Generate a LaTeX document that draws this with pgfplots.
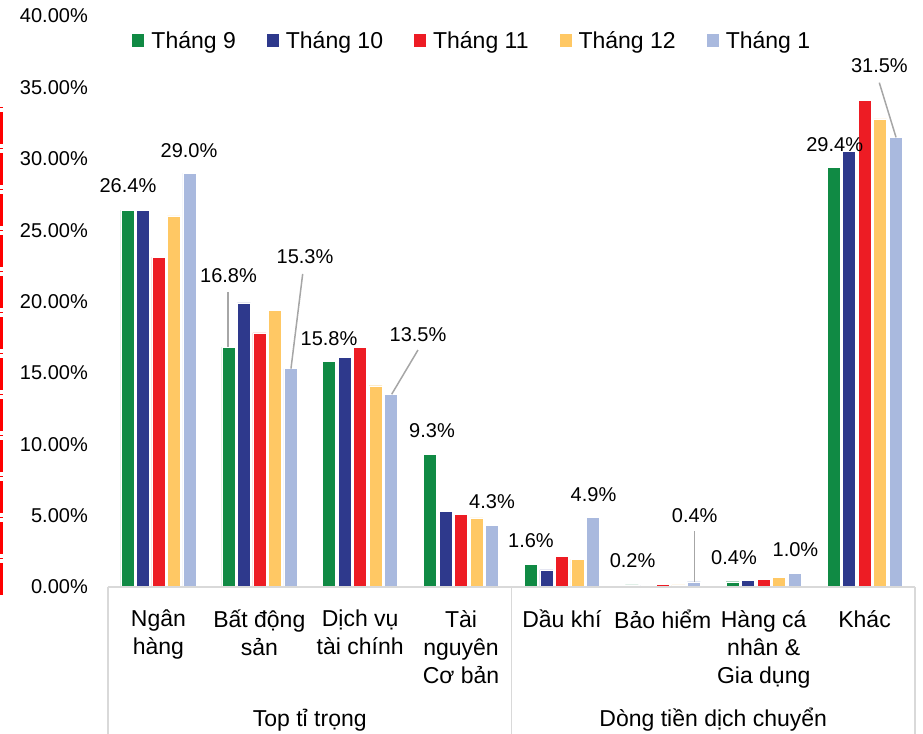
\documentclass[border=0pt]{standalone}
\usepackage{fontspec}
\setmainfont{Liberation Sans}
\usepackage{pgfplots}
\pgfplotsset{compat=1.18}
\definecolor{cg}{RGB}{16,138,68}
\definecolor{cn}{RGB}{46,57,140}
\definecolor{cr}{RGB}{237,28,36}
\definecolor{cy}{RGB}{255,200,100}
\definecolor{cb}{RGB}{169,185,222}
\definecolor{sepc}{RGB}{217,217,217}
\definecolor{lead}{RGB}{166,166,166}
\begin{document}
\begin{tikzpicture}
\begin{axis}[
  name=ax, scale only axis, width=807pt, height=571pt,
  xmin=-0.5, xmax=7.5, ymin=0, ymax=40,
  ybar=2.5pt, bar width=13pt,
  axis line style={draw=none}, tick style={draw=none},
  clip=false,
  xtick={0,...,7},
  xticklabels={Ngân\\hàng, Bất động\\sản, Dịch vụ\\tài chính, Tài\\nguyên\\Cơ bản, Dầu khí\\{}, Bảo hiểm\\{}, Hàng cá\\nhân \&\\Gia dụng, Khác\\{}},
  xticklabel style={align=center, font=\fontsize{23}{28}\selectfont, anchor=north, inner sep=0pt, yshift=-18.7pt,
    execute at begin node={\rule{0pt}{21pt}}},
  ytick={0,5,...,40},
  /pgf/number format/assume math mode=true,
  yticklabel={\pgfmathprintnumber[fixed,fixed zerofill,precision=2]{\tick}\%},
  yticklabel style={font=\fontsize{20}{24}\selectfont, anchor=east, inner sep=0pt, xshift=-20pt},
  legend columns=-1,
  legend style={at={(rel axis cs:0,0.9562)}, anchor=west, xshift=24.5pt, draw=none, fill=none,
    font=\fontsize{23}{26}\selectfont, inner sep=0pt, outer sep=0pt,
    nodes={inner sep=0pt},
    /tikz/every odd column/.append style={column sep=7pt},
    /tikz/every even column/.append style={column sep=31pt}},
  legend image code/.code={\fill[#1,draw=none] (0pt,-6.5pt) rectangle (12pt,6.5pt);},
]
\addplot[fill=cg, draw=white, line width=0.4pt] coordinates {(0,26.4) (1,16.8) (2,15.8) (3,9.3) (4,1.6) (5,0.15) (6,0.37) (7,29.4)};
\addplot[fill=cn, draw=white, line width=0.4pt] coordinates {(0,26.4) (1,19.9) (2,16.1) (3,5.3) (4,1.2) (5,0.1) (6,0.49) (7,30.5)};
\addplot[fill=cr, draw=white, line width=0.4pt] coordinates {(0,23.1) (1,17.8) (2,16.8) (3,5.1) (4,2.15) (5,0.17) (6,0.56) (7,34.1)};
\addplot[fill=cy, draw=white, line width=0.4pt] coordinates {(0,26.0) (1,19.4) (2,14.1) (3,4.85) (4,1.96) (5,0.15) (6,0.68) (7,32.8)};
\addplot[fill=cb, draw=white, line width=0.4pt] coordinates {(0,29.0) (1,15.3) (2,13.5) (3,4.3) (4,4.9) (5,0.37) (6,0.97) (7,31.5)};
\legend{Tháng 9, Tháng 10, Tháng 11, Tháng 12, Tháng 1}
% baseline and separators
\draw[sepc, line width=1.2pt] (axis cs:-0.5,0) -- (axis cs:7.5,0);
\draw[sepc, line width=1.2pt] (axis cs:-0.5,0) -- ([yshift=-147pt]axis cs:-0.5,0);
\draw[sepc, line width=1.2pt] (axis cs:3.5,0) -- ([yshift=-147pt]axis cs:3.5,0);
\draw[sepc, line width=1.2pt] (axis cs:7.5,0) -- ([yshift=-147pt]axis cs:7.5,0);
% red dashed marker
\draw[red, line width=3pt, dash pattern=on 32pt off 4pt on 1pt off 4pt] ([xshift=-106.5pt,yshift=-8pt]axis cs:-0.5,0) -- ([xshift=-106.5pt,yshift=480pt]axis cs:-0.5,0);
% group labels
\node[anchor=base, font=\fontsize{23}{26}\selectfont, yshift=-140pt] at (axis cs:1.5,0) {Top tỉ trọng};
\node[anchor=base, font=\fontsize{23}{26}\selectfont, yshift=-140pt] at (axis cs:5.5,0) {Dòng tiền dịch chuyển};
% leader lines
\draw[lead, line width=1.5pt] (axis cs:0.6896,20.67) -- (axis cs:0.6896,16.8);
\draw[lead, line width=1.5pt] (axis cs:1.430,21.93) -- (axis cs:1.314,15.3);
\draw[lead, line width=1.5pt] (axis cs:2.573,16.60) -- (axis cs:2.312,13.5);
\draw[lead, line width=1.5pt] (axis cs:5.312,3.92) -- (axis cs:5.312,0.37);
\draw[lead, line width=1.5pt] (axis cs:7.146,35.33) -- (axis cs:7.312,31.5);
% data labels
\begin{scope}[every node/.style={anchor=base, font=\fontsize{20}{24}\selectfont, inner sep=0pt}]
\node at (axis cs:-0.302,27.67) {26.4\%};
\node at (axis cs:0.303,30.12) {29.0\%};
\node at (axis cs:0.695,21.30) {16.8\%};
\node at (axis cs:1.453,22.63) {15.3\%};
\node at (axis cs:1.691,16.95) {15.8\%};
\node at (axis cs:2.573,17.23) {13.5\%};
\node at (axis cs:2.712,10.44) {9.3\%};
\node at (axis cs:3.307,5.53) {4.3\%};
\node at (axis cs:3.693,2.80) {1.6\%};
\node at (axis cs:4.313,6.02) {4.9\%};
\node at (axis cs:4.700,1.40) {0.2\%};
\node at (axis cs:5.316,4.55) {0.4\%};
\node at (axis cs:5.706,1.61) {0.4\%};
\node at (axis cs:6.315,2.17) {1.0\%};
\node at (axis cs:6.704,30.49) {29.4\%};
\node at (axis cs:7.147,36.01) {31.5\%};
\end{scope}
\coordinate (bl) at (rel axis cs:0,0);
\coordinate (tr) at (rel axis cs:1,1);
\end{axis}
\pgfresetboundingbox
\path[use as bounding box] ([shift={(-108pt,-147pt)}]bl) rectangle ([shift={(8pt,16pt)}]tr);
\end{tikzpicture}
\end{document}
